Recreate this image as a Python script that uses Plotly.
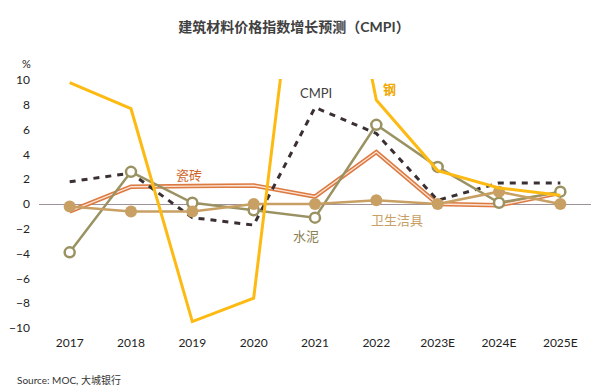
import plotly.graph_objects as go

years = ["2017", "2018", "2019", "2020", "2021", "2022", "2023E", "2024E", "2025E"]
steel = [9.8, 7.7, -9.5, -7.6, 33.0, 8.4, 2.7, 1.3, 0.7]
cmpi = [1.8, 2.5, -1.1, -1.7, 7.8, 5.7, 0.3, 1.7, 1.7]
cement = [-3.9, 2.6, 0.1, -0.5, -1.1, 6.4, 3.0, 0.1, 1.0]
sanitary = [-0.2, -0.6, -0.6, 0.0, 0.0, 0.3, 0.0, 1.0, 0.0]
tiles = [-0.6, 1.4, 1.45, 1.5, 0.6, 4.2, 0.0, -0.1, 0.9]
yticks = [-10, -8, -6, -4, -2, 0, 2, 4, 6, 8, 10]

FONT = "Lato, 'Noto Sans CJK SC', sans-serif"
x = list(range(len(years)))

fig = go.Figure()
# tiles: compound line (orange with light core)
fig.add_trace(go.Scatter(x=x, y=tiles, mode="lines",
                         line=dict(color="#DC7A42", width=4.5), hoverinfo="skip"))
fig.add_trace(go.Scatter(x=x, y=tiles, mode="lines",
                         line=dict(color="#FBE3D3", width=1.4), hoverinfo="skip"))
# CMPI
fig.add_trace(go.Scatter(x=x, y=cmpi, mode="lines",
                         line=dict(color="#3A3034", width=3, dash="6px,6px")))
# cement
fig.add_trace(go.Scatter(x=x, y=cement, mode="lines+markers",
                         line=dict(color="#9A9262", width=2.5),
                         marker=dict(symbol="circle", size=10, color="white",
                                     line=dict(color="#9A9262", width=2.5))))
# sanitary
fig.add_trace(go.Scatter(x=x, y=sanitary, mode="lines+markers",
                         line=dict(color="#C8A064", width=2.5),
                         marker=dict(symbol="circle", size=12, color="#C8A064")))
# steel
fig.add_trace(go.Scatter(x=x, y=steel, mode="lines",
                         line=dict(color="#FDBA12", width=3)))

fig.update_layout(
    width=600, height=388,
    margin=dict(l=33, r=9, t=79, b=54),
    paper_bgcolor="white", plot_bgcolor="white",
    showlegend=False,
    font=dict(family=FONT, size=12, color="#222222"),
    title=dict(text="<b>建筑材料价格指数增长预测（CMPI）</b>", x=0.49, xanchor="center",
               y=0.93, yanchor="middle",
               font=dict(family=FONT, size=14, color="#404040")),
    xaxis=dict(range=[-0.5, 8.5], tickvals=x, ticktext=years, showgrid=False,
               zeroline=False, showline=False, ticks="",
               tickfont=dict(size=12, color="#222222")),
    yaxis=dict(range=[-10.5, 10.1], tickvals=yticks, showgrid=False,
               zeroline=True, zerolinecolor="#A0929A", zerolinewidth=1,
               showline=False, ticks="", ticklabelstandoff=8,
               tickfont=dict(size=12, color="#222222")),
)

ann = [
    dict(x=4.02, y=9.0, text="CMPI", color="#404040"),
    dict(x=5.22, y=9.3, text="<b>钢</b>", color="#F0A800"),
    dict(x=1.95, y=2.35, text="瓷砖", color="#D0652A"),
    dict(x=3.85, y=-2.55, text="水泥", color="#8A8050"),
    dict(x=5.33, y=-1.25, text="卫生洁具", color="#C8A064"),
]
for a in ann:
    fig.add_annotation(x=a["x"], y=a["y"], text=a["text"], showarrow=False,
                       xref="x", yref="y",
                       font=dict(family=FONT, size=13, color=a["color"]))

fig.add_annotation(xref="paper", yref="paper", x=(14 - 33) / 558, y=(388 - 54 - 55) / 255,
                   text="%", showarrow=False, font=dict(size=11, color="#222222"))
fig.add_annotation(xref="paper", yref="paper", x=(9 - 33) / 558, y=(388 - 54 - 380) / 255,
                   xanchor="left", yanchor="middle", text="Source: MOC, 大城银行",
                   showarrow=False, font=dict(family=FONT, size=10, color="#333333"))

fig.write_html("out.html", config={"displayModeBar": False},
               post_script="document.body.style.margin='0';")
